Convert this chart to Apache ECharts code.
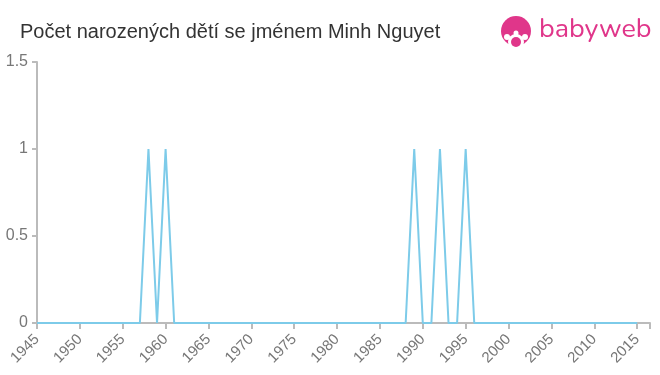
<!DOCTYPE html>
<html><head><meta charset="utf-8">
<script src="https://cdn.jsdelivr.net/npm/echarts@6/dist/echarts.min.js"></script>
<style>html,body{margin:0;padding:0;background:#fff}#c{width:660px;height:375px}</style>
</head><body><div id="c"></div>
<script>
const title = "Počet narozených dětí se jménem Minh Nguyet";
const startYear = 1945;
const endYear = 2015;
const peakYears = [1958, 1960, 1989, 1992, 1995];
const peakValues = [1, 1, 1, 1, 1];
const yTicks = [0, 0.5, 1, 1.5];

const seriesData = [];
for (let y = startYear; y <= endYear; y++) {
  const i = peakYears.indexOf(y);
  seriesData.push([y, i >= 0 ? peakValues[i] : 0]);
}

const chart = echarts.init(document.getElementById('c'), null, {renderer: 'canvas'});
const pink = '#e0368a';
chart.setOption({
  animation: false,
  title: {
    text: title, left: 15, top: 17,
    textStyle: {fontFamily: 'Arial, Liberation Sans, sans-serif', fontSize: 20, fontWeight: 'normal', color: '#333'}
  },
  grid: {left: 37, right: 10, top: 62, bottom: 52, containLabel: false},
  xAxis: {
    type: 'value', min: 1945, max: 2016.5, interval: 5,
    axisLine: {show: true, lineStyle: {color: '#bbb', width: 2}},
    axisTick: {show: true, length: 6, lineStyle: {color: '#bbb', width: 2}},
    splitLine: {show: false},
    axisLabel: {
      rotate: 45, color: '#777', fontSize: 15, margin: 14,
      fontFamily: 'Arial, Liberation Sans, sans-serif',
      formatter: v => (v % 5 === 0 && v <= 2015) ? String(v) : ''
    }
  },
  yAxis: {
    type: 'value', min: 0, max: 1.5, interval: 0.5,
    axisLine: {show: true, lineStyle: {color: '#bbb', width: 2}},
    axisTick: {show: true, length: 5, lineStyle: {color: '#bbb', width: 2}},
    splitLine: {show: false},
    axisLabel: {
      color: '#777', fontSize: 16, margin: 9,
      fontFamily: 'Arial, Liberation Sans, sans-serif',
      formatter: v => yTicks.includes(v) ? String(v) : ''
    }
  },
  series: [{
    type: 'line', data: seriesData, symbol: 'none',
    lineStyle: {color: '#7dcbe9', width: 2},
    z: 3
  }],
  graphic: [
    {type: 'circle', shape: {cx: 516, cy: 31, r: 15}, style: {fill: pink}},
    {type: 'circle', shape: {cx: 516, cy: 42, r: 8}, style: {fill: '#fff'}},
    {type: 'circle', shape: {cx: 507, cy: 37, r: 3}, style: {fill: '#fff'}},
    {type: 'circle', shape: {cx: 525, cy: 37, r: 3}, style: {fill: '#fff'}},
    {type: 'circle', shape: {cx: 516, cy: 42, r: 5}, style: {fill: pink}},
    {type: 'circle', shape: {cx: 516, cy: 33, r: 2.5}, style: {fill: '#fff'}},
    {type: 'text', left: 539, top: 17, style: {text: 'babyweb', fill: pink, fontSize: 27, fontFamily: 'Nunito, Lato, Arial, sans-serif', fontWeight: 'normal'}}
  ]
});
</script></body></html>
